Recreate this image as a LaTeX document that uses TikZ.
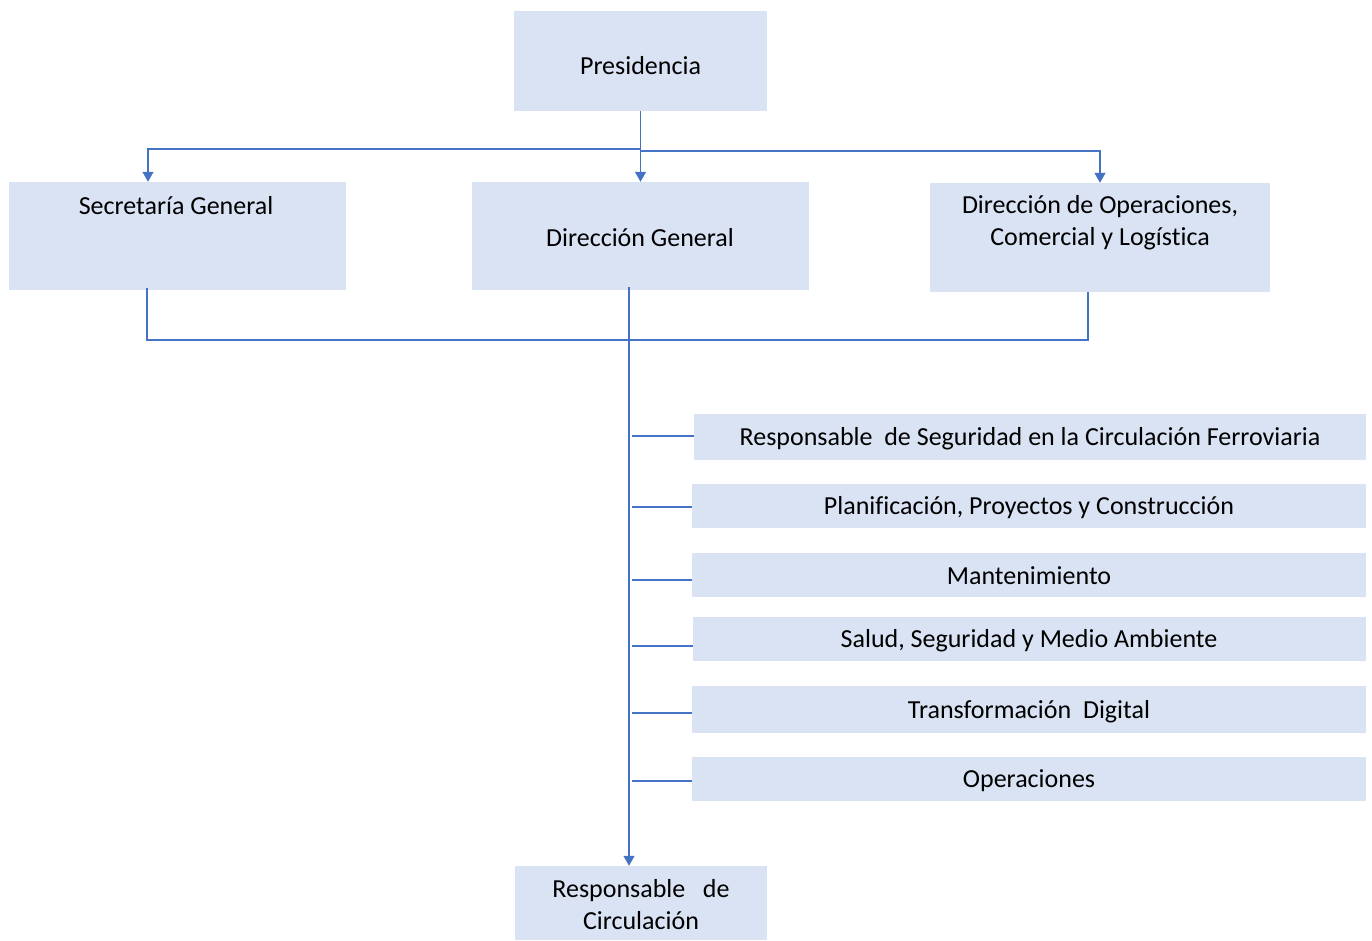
\documentclass[tikz,border=0pt]{standalone}
\usepackage{fontspec}
\setmainfont{Carlito}[Ligatures=NoCommon]
\usetikzlibrary{arrows.meta}
\definecolor{boxfill}{HTML}{DAE3F3}
\definecolor{linec}{HTML}{4472C4}
\begin{document}
\begin{tikzpicture}[x=1pt,y=-1pt,
  box/.style={fill=boxfill,draw=none,inner sep=0pt},
  txt/.style={inner sep=0pt,align=center,font=\fontsize{26}{32}\selectfont},
  conn/.style={draw=linec,line width=1.3pt},
  arr/.style={conn,-{Triangle[width=11pt,length=10pt]}}]
\useasboundingbox (0,0) rectangle (1372,941);
% boxes
\node[box,minimum width=253pt,minimum height=100pt] (pres) at (640.5,61) {};
\node[box,minimum width=337pt,minimum height=108pt] (sec) at (177.5,236) {};
\node[box,minimum width=337pt,minimum height=108pt] (dg) at (640.5,236) {};
\node[box,minimum width=340pt,minimum height=109pt] (dop) at (1100,237.5) {};
\node[box,minimum width=672pt,minimum height=46pt] (b1) at (1030,437) {};
\node[box,minimum width=674pt,minimum height=44pt] (b2) at (1029,506) {};
\node[box,minimum width=674pt,minimum height=44pt] (b3) at (1029,575) {};
\node[box,minimum width=673pt,minimum height=44pt] (b4) at (1029.5,639) {};
\node[box,minimum width=674pt,minimum height=47pt] (b5) at (1029,709.5) {};
\node[box,minimum width=674pt,minimum height=44pt] (b6) at (1029,779) {};
\node[box,minimum width=252pt,minimum height=74pt] (rc) at (641,903) {};
% texts
\node[txt] (prest) at (640.5,66) {Presidencia};
\node[txt] (sect) at (176,206) {Secretaría General};
\node[txt] (dgt) at (640,238) {Dirección General};
\node[txt] (dopt) at (1100,223) {Dirección de Operaciones,\\Comercial y Logística};
\node[txt] (b1t) at (1030,439) {Responsable\ \ de Seguridad en la Circulación Ferroviaria};
\node[txt] (b2t) at (1029,508) {Planificación, Proyectos y Construcción};
\node[txt] (b3t) at (1029,576) {Mantenimiento};
\node[txt] (b4t) at (1029,641) {Salud, Seguridad y Medio Ambiente};
\node[txt] (b5t) at (1029,712) {Transformación\ \ Digital};
\node[txt] (b6t) at (1029,781) {Operaciones};
\node[txt] (rct) at (641,905) {Responsable\ \ \ de\\Circulación};
% top connectors
\coordinate (j1) at (640.5,149);
\draw[arr] (pres.south) -- (dg.north);
\draw[arr] (j1) -| ([xshift=-29.5pt]sec.north);
\draw[arr] (640.5,151) -| (dop.north);
% bottom connectors
\coordinate (jb) at (629,340);
\draw[conn] ([xshift=-30.5pt,yshift=2pt]sec.south) |- (jb) -| ([xshift=-12pt]dop.south);
\draw[arr] ([xshift=-11.5pt,yshift=3pt]dg.south) -- ([xshift=-12pt]rc.north);
\foreach \b/\yy in {b1/436,b2/507,b3/580,b4/646,b5/713,b6/781}{
  \draw[conn] (632,\yy) -- (\b.west |- 0,\yy);
}
\end{tikzpicture}
\end{document}
